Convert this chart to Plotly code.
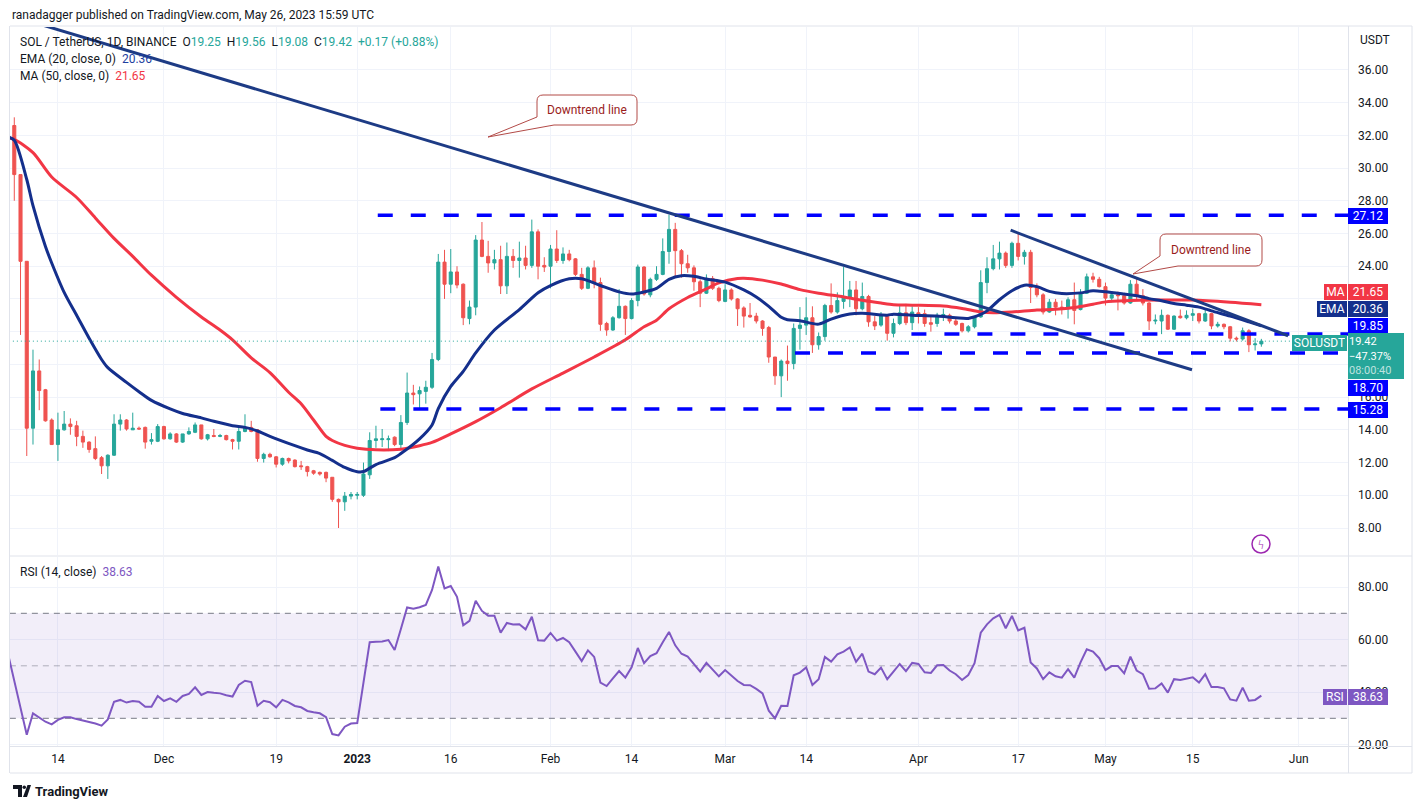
"""
SOL/USDT daily chart (TradingView style) rebuilt with plotly:
candles + EMA20 + MA50, trend lines, horizontal levels, RSI(14) pane.
"""

import pandas as pd
import plotly.graph_objects as go
from plotly.subplots import make_subplots

# --- Daily candles, Nov 7 2022 .. May 26 2023 ---
START = pd.Timestamp("2022-11-07")

opens = [
    32.6, 29.6, 24.3, 14.1, 17.6, 16.45, 14.6, 13.1, 14.0, 14.35,
    14.25, 13.6, 13.25, 12.85, 12.3, 11.8, 12.45, 14.35, 14.6, 14.0,
    14.1, 14.15, 13.3, 13.3, 14.2, 13.45, 13.75, 13.25, 13.75, 13.85,
    14.3, 13.45, 13.65, 13.6, 13.65, 13.4, 13.3, 13.9, 14.15, 14.0,
    12.25, 12.5, 12.35, 11.9, 12.25, 12.15, 11.8, 11.75, 11.5, 11.4,
    11.4, 11.1, 9.75, 9.6, 9.95, 10.0, 10.0, 11.25, 13.35, 13.4,
    13.4, 13.55, 13.1, 14.45, 16.25, 16.2, 16.35, 16.6, 18.3, 24.25,
    22.9, 23.65, 22.9, 20.8, 21.5, 25.6, 24.6, 24.2, 24.4, 22.8,
    24.6, 24.35, 24.5, 24.05, 26.1, 24.05, 24.0, 25.05, 24.35, 24.75,
    24.45, 23.5, 22.65, 23.9, 23.0, 20.5, 20.1, 20.85, 21.55, 20.8,
    21.9, 23.95, 22.25, 23.2, 23.5, 24.9, 26.25, 24.95, 24.15, 23.9,
    23.05, 22.35, 23.25, 22.65, 21.85, 22.55, 22.0, 21.45, 21.0, 20.95,
    20.65, 20.25, 18.45, 17.3, 18.2, 18.05, 20.2, 20.4, 20.85, 19.2,
    19.7, 21.6, 21.2, 21.85, 22.1, 22.55, 21.4, 22.15, 20.6, 20.4,
    21.0, 19.9, 20.5, 21.15, 20.55, 21.15, 21.1, 20.55, 20.5, 21.0,
    21.0, 20.65, 20.5, 20.05, 20.3, 20.9, 23.0, 23.85, 24.45, 24.8,
    24.05, 25.4, 24.6, 24.85, 22.7, 22.25, 21.2, 21.8, 21.5, 21.4,
    21.95, 21.35, 22.35, 23.35, 23.2, 22.75, 22.05, 22.25, 22.2, 21.75,
    22.9, 22.2, 21.75, 20.65, 20.65, 21.0, 20.15, 20.95, 20.85, 21.0,
    21.1, 20.65, 21.1, 20.35, 20.45, 20.3, 19.6, 19.55, 20.05, 19.2, 19.25,
]
highs = [
    33.1, 29.6, 24.3, 18.9, 18.3, 16.5, 14.7, 15.05, 15.15, 14.7,
    14.55, 13.95, 13.3, 13.6, 12.4, 12.5, 14.95, 14.95, 14.65, 15.05,
    14.2, 14.2, 13.8, 14.35, 14.25, 13.85, 13.8, 13.75, 14.15, 14.45,
    14.3, 13.75, 14.05, 13.75, 13.7, 13.45, 14.15, 14.95, 14.55, 14.05,
    12.6, 12.6, 12.4, 12.3, 12.3, 12.2, 12.1, 11.8, 11.55, 11.45,
    11.45, 11.1, 9.8, 10.2, 10.2, 10.2, 12.0, 13.85, 14.25, 14.05,
    13.65, 13.6, 14.9, 17.5, 16.75, 16.65, 17.0, 18.7, 24.75, 25.0,
    25.05, 24.0, 22.95, 21.9, 25.9, 26.7, 25.55, 25.0, 25.25, 25.45,
    25.05, 25.5, 25.25, 26.85, 26.25, 24.55, 25.3, 26.2, 25.15, 25.0,
    24.5, 23.9, 24.0, 24.35, 23.3, 20.6, 20.95, 22.6, 21.6, 22.05,
    24.1, 24.0, 23.3, 24.0, 25.7, 27.15, 26.65, 25.05, 24.7, 24.05,
    23.2, 23.5, 23.4, 22.75, 22.9, 22.65, 22.05, 21.55, 21.75, 21.15,
    20.7, 20.35, 18.45, 18.3, 19.15, 20.5, 21.5, 22.1, 21.55, 19.95,
    21.7, 22.95, 22.4, 23.95, 23.1, 23.1, 23.0, 22.25, 20.95, 21.2,
    21.05, 20.8, 21.6, 21.7, 21.55, 21.5, 21.35, 21.0, 21.15, 21.4,
    21.1, 20.85, 20.55, 20.4, 20.95, 23.75, 24.55, 25.3, 25.5, 24.9,
    25.5, 26.05, 25.0, 25.0, 22.95, 22.35, 22.0, 22.0, 21.9, 22.1,
    23.0, 22.6, 23.55, 23.6, 23.35, 23.0, 22.45, 22.45, 22.3, 23.15,
    23.25, 22.6, 21.8, 21.05, 21.35, 21.05, 21.0, 21.35, 21.3, 21.4,
    21.15, 21.35, 21.15, 20.6, 20.5, 20.35, 19.7, 20.25, 20.15, 19.6, 19.56,
]
lows = [
    28.0, 19.8, 12.4, 13.1, 15.2, 14.5, 13.1, 12.1, 13.95, 13.7,
    13.0, 12.9, 12.6, 12.15, 11.3, 11.0, 12.4, 13.95, 13.95, 14.0,
    14.0, 12.85, 13.1, 13.25, 13.4, 13.4, 13.2, 13.2, 13.7, 13.8,
    13.4, 13.35, 13.55, 13.55, 13.35, 12.8, 12.8, 13.85, 13.85, 12.05,
    12.0, 12.3, 11.7, 11.8, 11.95, 11.7, 11.55, 11.15, 11.25, 11.2,
    10.8, 9.6, 8.0, 9.05, 9.75, 9.75, 9.9, 11.0, 12.9, 12.95,
    12.7, 13.0, 12.85, 14.3, 15.55, 15.3, 15.6, 16.5, 18.2, 22.0,
    22.35, 22.65, 20.4, 20.45, 21.0, 24.55, 23.6, 23.8, 22.3, 22.3,
    23.9, 23.3, 23.8, 23.9, 23.2, 23.65, 22.65, 24.2, 24.15, 24.3,
    23.4, 22.55, 22.6, 22.65, 20.05, 19.75, 20.05, 20.8, 19.8, 20.75,
    21.55, 22.2, 22.1, 23.1, 23.45, 24.15, 23.3, 23.3, 23.6, 22.5,
    21.5, 22.3, 22.55, 21.8, 21.8, 21.9, 20.35, 20.25, 20.85, 20.5,
    19.75, 18.1, 16.75, 16.0, 17.0, 17.7, 18.9, 19.8, 18.7, 18.9,
    19.45, 21.1, 21.1, 21.4, 21.5, 21.0, 21.3, 20.3, 20.1, 20.3,
    19.45, 19.65, 20.4, 20.4, 20.1, 20.5, 20.3, 20.0, 20.3, 20.65,
    20.5, 20.35, 19.95, 19.95, 20.2, 20.85, 22.35, 23.75, 23.8, 23.9,
    23.9, 24.35, 24.1, 21.75, 22.1, 21.05, 21.15, 21.0, 21.05, 20.8,
    20.45, 21.3, 22.3, 23.0, 22.7, 21.6, 21.8, 21.3, 21.65, 21.7,
    21.9, 21.6, 20.1, 20.45, 19.85, 20.1, 20.1, 20.8, 20.75, 20.65,
    20.5, 20.6, 20.15, 20.25, 20.15, 19.4, 19.4, 19.45, 18.75, 18.85, 19.08,
]
closes = [
    29.6, 24.3, 14.1, 17.6, 16.4, 14.55, 13.1, 14.0, 14.35, 14.2,
    13.6, 13.25, 12.8, 12.25, 11.8, 12.45, 14.35, 14.6, 14.05, 14.1,
    14.05, 13.25, 13.4, 14.2, 13.45, 13.75, 13.25, 13.75, 13.9, 14.3,
    13.45, 13.7, 13.6, 13.65, 13.4, 13.3, 13.9, 14.15, 13.9, 12.25,
    12.5, 12.35, 11.9, 12.25, 12.1, 11.75, 11.75, 11.45, 11.35, 11.3,
    11.05, 9.75, 9.6, 9.95, 10.05, 10.05, 11.3, 13.35, 13.45, 13.45,
    13.45, 13.1, 14.45, 16.25, 16.15, 16.4, 16.6, 18.3, 24.25, 22.9,
    23.65, 22.85, 20.85, 21.5, 25.6, 24.6, 24.2, 24.4, 22.8, 24.6,
    24.35, 24.5, 24.05, 26.1, 24.0, 23.95, 25.05, 24.35, 24.75, 24.4,
    23.5, 22.65, 23.9, 23.0, 20.45, 20.1, 20.85, 21.55, 20.8, 21.9,
    23.95, 22.3, 23.2, 23.5, 24.9, 26.25, 24.95, 24.15, 23.9, 23.05,
    22.35, 23.25, 22.65, 21.9, 22.55, 22.0, 21.4, 20.95, 20.9, 20.65,
    20.2, 18.45, 17.3, 18.2, 18.05, 20.2, 20.4, 20.85, 19.2, 19.7,
    21.6, 21.2, 21.9, 22.15, 22.55, 21.4, 22.15, 20.6, 20.35, 21.0,
    19.9, 20.5, 21.15, 20.55, 21.2, 21.05, 20.5, 20.45, 21.0, 21.05,
    20.65, 20.45, 20.05, 20.3, 20.9, 23.0, 23.85, 24.45, 24.8, 24.05,
    25.4, 24.6, 24.85, 22.7, 22.25, 21.2, 21.8, 21.5, 21.4, 21.95,
    21.3, 22.35, 23.35, 23.2, 22.75, 22.05, 22.25, 22.2, 21.75, 22.9,
    22.2, 21.75, 20.65, 20.7, 21.0, 20.15, 20.95, 20.85, 21.0, 21.1,
    20.65, 21.1, 20.35, 20.45, 20.3, 19.6, 19.55, 20.05, 19.2, 19.25, 19.42,
]

# EMA(20) and MA(50) (day offset from START, value)
ema_day = [-1, 0, 2, 3, 5, 6, 8, 10, 12, 14, 15, 18, 20, 22, 25, 27, 30, 32, 35, 37,
           39, 41, 45, 47, 49, 51, 53, 55, 56, 58, 61, 62, 65, 67, 68, 70, 72, 74, 77, 81,
           84, 86, 89, 91, 94, 97, 99, 101, 103, 105, 107, 109, 111, 114, 117, 119, 121, 123, 124, 126,
           129, 131, 134, 136, 140, 141, 144, 148, 151, 153, 155, 156, 158, 160, 162, 164, 166, 168, 171, 173,
           175, 178, 180, 182, 184, 186, 188, 190, 192, 195, 198, 200]
ema_val = [31.9, 31.7, 29.3, 27.7, 25.2, 24.2, 22.4, 21.0, 19.6, 18.3, 17.8, 16.9, 16.33, 15.8, 15.28, 15.0, 14.73, 14.52, 14.25, 14.15,
           13.93, 13.6, 13.03, 12.77, 12.55, 12.13, 11.7, 11.44, 11.45, 11.88, 12.3, 12.55, 13.45, 14.3, 15.3, 16.65, 17.57, 18.7, 20.1, 21.35,
           22.38, 22.82, 23.23, 23.23, 22.82, 22.43, 22.3, 22.43, 22.65, 23.2, 23.42, 23.38, 23.22, 23.03, 22.55, 22.12, 21.55, 20.88, 20.73, 20.67,
           20.46, 20.77, 21.08, 21.12, 21.01, 21.07, 21.01, 20.95, 20.85, 20.81, 21.05, 21.27, 21.95, 22.5, 22.84, 22.75, 22.46, 22.33, 22.37, 22.5,
           22.44, 22.3, 22.2, 22.02, 21.89, 21.72, 21.62, 21.5, 21.27, 20.95, 20.6, 20.36]

ma_day = [-1, 0, 3, 6, 10, 13, 16, 19, 22, 26, 30, 33, 35, 38, 41, 44, 46, 48, 50, 51,
          53, 55, 58, 62, 65, 67, 70, 74, 78, 83, 88, 93, 98, 101, 103, 105, 108, 111, 113, 116,
          117, 120, 123, 126, 129, 133, 136, 139, 141, 144, 149, 152, 155, 157, 160, 164, 167, 170, 173, 175,
          178, 184, 189, 195, 200]
ma_val = [31.85, 31.75, 30.94, 29.45, 28.2, 26.95, 25.7, 24.6, 23.45, 22.1, 20.9, 20.1, 19.5, 18.4, 17.5, 16.3, 15.6, 14.6, 13.6, 13.35,
          13.05, 12.88, 12.78, 12.82, 13.03, 13.23, 13.75, 14.5, 15.35, 16.5, 17.47, 18.45, 19.5, 20.3, 20.7, 21.4, 22.09, 22.62, 22.98, 23.25,
          23.27, 23.15, 22.91, 22.57, 22.35, 22.12, 21.92, 21.75, 21.65, 21.62, 21.57, 21.42, 21.2, 21.15, 21.2, 21.32, 21.37, 21.48, 21.68, 21.82,
          21.89, 21.93, 21.93, 21.8, 21.65]

# RSI(14), one value per day starting Nov 6 2022
rsi = [
    54.5,
    44.1, 34.2, 23.7, 31.9, 30.4, 28.7, 27.7, 29.4, 30.4, 30.4,
    29.7, 29.2, 28.7, 28.0, 27.2, 29.6, 36.3, 37.0, 36.0, 36.6,
    36.3, 34.4, 34.4, 38.5, 36.6, 37.6, 36.3, 38.5, 39.3, 41.8,
    38.9, 40.0, 39.7, 39.5, 38.8, 38.3, 42.7, 44.3, 43.8, 34.8,
    36.7, 36.1, 34.2, 37.0, 36.1, 34.7, 34.2, 32.8, 32.3, 31.9,
    30.4, 24.0, 23.5, 26.8, 28.0, 28.2, 43.6, 59.0, 59.2, 59.3,
    59.8, 56.0, 64.0, 72.2, 71.7, 72.3, 73.2, 78.9, 87.8, 79.5,
    80.4, 76.3, 65.4, 67.1, 74.8, 70.9, 69.1, 69.1, 62.6, 66.3,
    65.7, 65.8, 63.9, 68.7, 59.7, 59.6, 62.5, 59.6, 60.6, 59.0,
    55.4, 51.8, 55.9, 53.4, 43.6, 42.3, 45.2, 48.0, 45.5, 49.4,
    56.8, 51.0, 53.7, 54.8, 59.0, 62.9, 57.8, 54.6, 53.5, 50.7,
    47.8, 51.1, 48.4, 46.0, 48.4, 46.3, 44.2, 42.7, 42.6, 41.2,
    39.5, 32.9, 30.0, 34.8, 34.7, 46.4, 47.4, 49.4, 42.7, 44.9,
    53.4, 51.6, 54.4, 55.4, 57.0, 51.5, 54.6, 47.8, 46.8, 49.3,
    44.9, 47.8, 50.7, 48.0, 51.1, 50.7, 47.5, 47.3, 50.2, 50.3,
    48.2, 46.8, 44.6, 46.5, 51.0, 62.6, 65.8, 68.1, 69.4, 64.3,
    69.0, 63.5, 64.5, 51.3, 49.0, 44.9, 47.5, 46.0, 45.5, 48.7,
    45.5, 51.3, 56.3, 55.4, 52.9, 48.4, 49.9, 49.9, 47.1, 53.5,
    48.2, 46.8, 41.3, 41.4, 43.3, 39.8, 44.9, 44.6, 45.2, 45.6,
    43.6, 46.8, 41.9, 41.9, 41.4, 37.2, 36.7, 41.7, 36.7, 37.0,
    38.63,
]

# Drawn lines: long and short downtrend lines (date, price), horizontal levels
long_line_x = ["2022-11-06", "2023-05-14 21:00"]
long_line_y = [39.37, 17.67]
short_line_x = ["2023-04-15 19:00", "2023-05-30 07:00"]
short_line_y = [26.2, 19.75]
level_vals = [27.12, 19.85, 18.70, 15.28]
level_from = ["2023-01-04 07:00", "2023-03-30 21:00", "2023-03-12 05:00", "2023-01-04 17:00"]
LAST = 19.42

tick_dates = ["2022-11-14", "2022-12-01", "2022-12-19", "2023-01-01", "2023-01-16", "2023-02-01",
              "2023-02-14", "2023-03-01", "2023-03-14", "2023-04-01", "2023-04-17", "2023-05-01",
              "2023-05-15", "2023-06-01"]
tick_text = ["14", "Dec", "19", "<b>2023</b>", "16", "Feb", "14", "Mar", "14", "Apr", "17", "May", "15", "Jun"]

# price scale: labels 18/20/22 sit under the MA/EMA/last-price tags, so they stay blank
price_ticks = list(range(8, 37, 2))
price_text = ["" if v in (18, 20, 22) else f"{v:.2f}" for v in price_ticks]

assert len(opens) == len(highs) == len(lows) == len(closes) == 201, \
    (len(opens), len(highs), len(lows), len(closes))
assert len(rsi) == 202, len(rsi)

dates = pd.date_range(START, periods=len(closes), freq="D")
rsi_dates = pd.date_range(START - pd.Timedelta(days=1), periods=len(rsi), freq="D")
ema_x = [START + pd.Timedelta(days=d) for d in ema_day]
ma_x = [START + pd.Timedelta(days=d) for d in ma_day]

# --- colours ---
UP, DOWN = "#26a69a", "#ef5350"
EMA_C, MA_C = "#142f8c", "#f23645"
TREND_C = "#1d3b85"
LEVEL_C = "#0000ff"
RSI_C = "#7e57c2"
GRID = "#f0f3fa"
BORDER = "#e0e3eb"
TXT = "#131722"
CALLOUT = "#b24a47"
FONT = "Roboto"

# --- pixel helpers for the overlay furniture (plot area: x 10..1348, y 27..746) ---
def px(x):
    return (x - 10) / 1338

def py(y):
    return (746 - y) / 719

fig = make_subplots(rows=2, cols=1, shared_xaxes=True, vertical_spacing=0.0)

fig.add_trace(go.Candlestick(
    x=dates, open=opens, high=highs, low=lows, close=closes,
    increasing=dict(line=dict(color=UP, width=1), fillcolor=UP),
    decreasing=dict(line=dict(color=DOWN, width=1), fillcolor=DOWN),
    whiskerwidth=0, name="SOLUSDT",
), row=1, col=1)

fig.add_trace(go.Scatter(x=ma_x, y=ma_val, mode="lines", line=dict(color=MA_C, width=3, shape="spline", smoothing=0.8),
                         name="MA"), row=1, col=1)
fig.add_trace(go.Scatter(x=ema_x, y=ema_val, mode="lines", line=dict(color=EMA_C, width=3, shape="spline", smoothing=0.8),
                         name="EMA"), row=1, col=1)

# current price dotted line
fig.add_trace(go.Scatter(x=["2022-11-01", "2023-06-20"], y=[LAST, LAST], mode="lines",
                         line=dict(color=UP, width=1, dash="1px,3px"), hoverinfo="skip"), row=1, col=1)

# horizontal support / resistance levels
for lv, x0 in zip(level_vals, level_from):
    fig.add_trace(go.Scatter(x=[x0, "2023-06-20"], y=[lv, lv], mode="lines",
                             line=dict(color=LEVEL_C, width=3.5, dash="15px,18px"), hoverinfo="skip"),
                  row=1, col=1)

# trend lines
fig.add_trace(go.Scatter(x=long_line_x, y=long_line_y, mode="lines",
                         line=dict(color=TREND_C, width=3), hoverinfo="skip"), row=1, col=1)
fig.add_trace(go.Scatter(x=short_line_x, y=short_line_y, mode="lines",
                         line=dict(color=TREND_C, width=3), hoverinfo="skip"), row=1, col=1)

# RSI pane
fig.add_trace(go.Scatter(x=["2022-11-01", "2023-06-20"], y=[70, 70], mode="lines",
                         line=dict(width=0), hoverinfo="skip"), row=2, col=1)
fig.add_trace(go.Scatter(x=["2022-11-01", "2023-06-20"], y=[30, 30], mode="lines", fill="tonexty",
                         fillcolor="rgba(126,87,194,0.1)", line=dict(width=0), hoverinfo="skip"), row=2, col=1)
for lv, col in [(70, "#787b86"), (50, "rgba(120,123,134,0.55)"), (30, "#787b86")]:
    fig.add_trace(go.Scatter(x=["2022-11-01", "2023-06-20"], y=[lv, lv], mode="lines",
                             line=dict(color=col, width=1, dash="6px,5px"), hoverinfo="skip"), row=2, col=1)
fig.add_trace(go.Scatter(x=rsi_dates, y=rsi, mode="lines", line=dict(color=RSI_C, width=2), name="RSI"),
              row=2, col=1)

# --- axes ---
x_range = ["2022-11-06 07:30", "2023-06-08 21:30"]
fig.update_xaxes(range=x_range, tickvals=tick_dates, ticktext=tick_text, showgrid=True, gridcolor=GRID,
                 gridwidth=1, zeroline=False, showline=False, ticks="",
                 tickfont=dict(family=FONT, size=12, color=TXT))
fig.update_xaxes(showticklabels=False, rangeslider_visible=False, row=1, col=1)
fig.update_xaxes(ticklabelstandoff=4, row=2, col=1)

fig.update_yaxes(side="right", showgrid=True, gridcolor=GRID, zeroline=False, showline=False, ticks="",
                 ticklabelstandoff=9, tickfont=dict(family=FONT, size=12, color=TXT))
fig.update_yaxes(range=[6.35, 38.62], tickvals=price_ticks, ticktext=price_text, row=1, col=1)
fig.update_yaxes(range=[19.45, 91.45], tickvals=[20, 40, 60, 80],
                 ticktext=["20.00", "40.00", "60.00", "80.00"], row=2, col=1)

fig.update_layout(
    width=1422, height=809,
    margin=dict(l=10, r=74, t=27, b=63),
    paper_bgcolor="white", plot_bgcolor="white",
    showlegend=False,
    font=dict(family=FONT, size=12, color=TXT),
    yaxis=dict(domain=[py(555), 1.0]),
    yaxis2=dict(domain=[0.0, py(557)]),
    hovermode="x",
)

# --- frame lines ---
shapes = []
def hline(y, x0=10, x1=1412):
    shapes.append(dict(type="line", xref="paper", yref="paper", x0=px(x0), x1=px(x1), y0=py(y), y1=py(y),
                       line=dict(color=BORDER, width=1), layer="above"))

def vline(x, y0=26, y1=773):
    shapes.append(dict(type="line", xref="paper", yref="paper", x0=px(x), x1=px(x), y0=py(y0), y1=py(y1),
                       line=dict(color=BORDER, width=1), layer="above"))

def path(points):
    # points are (cmd, x, y) in screen pixels, or ("Q", cx, cy, x, y)
    parts = []
    for p in points:
        if p[0] == "Q":
            parts.append(f"Q {px(p[1])} {py(p[2])} {px(p[3])} {py(p[4])}")
        else:
            parts.append(f"{p[0]} {px(p[1])} {py(p[2])}")
    return " ".join(parts) + " Z"

def bubble(x0, y0, x1, y1, tip, left_y, bottom_x, r=6):
    # rounded box with a wedge tail leaving its lower-left corner
    pts = [("M", x0 + r, y0), ("L", x1 - r, y0), ("Q", x1, y0, x1, y0 + r),
           ("L", x1, y1 - r), ("Q", x1, y1, x1 - r, y1), ("L", bottom_x, y1),
           ("L", tip[0], tip[1]), ("L", x0, left_y), ("L", x0, y0 + r), ("Q", x0, y0, x0 + r, y0)]
    shapes.append(dict(type="path", xref="paper", yref="paper", path=path(pts),
                       fillcolor="white", line=dict(color=CALLOUT, width=1), layer="above"))

hline(26)
hline(556)
hline(746.5)
hline(773)
vline(1348.5)
vline(1412)
vline(9.5)

bubble(537, 95, 637, 125, (488, 137), 117, 554)
bubble(1160, 234, 1262, 266, (1133, 274), 256, 1178)

# lightning icon circle
shapes.append(dict(type="circle", xref="paper", yref="paper", x0=px(1252), x1=px(1270), y0=py(553), y1=py(535),
                   line=dict(color="#9c27b0", width=1.5)))
# TradingView logo bits
shapes.append(dict(type="path", xref="paper", yref="paper",
                   path=path([("M", 13, 785), ("L", 22, 785), ("L", 22, 797), ("L", 18, 797),
                              ("L", 18, 789), ("L", 13, 789)]),
                   fillcolor=TXT, line=dict(width=0)))
shapes.append(dict(type="circle", xref="paper", yref="paper", x0=px(22.5), x1=px(26), y0=py(789), y1=py(785.5),
                   fillcolor=TXT, line=dict(width=0)))
shapes.append(dict(type="path", xref="paper", yref="paper",
                   path=path([("M", 23, 797), ("L", 27.5, 785), ("L", 31, 785), ("L", 27, 797)]),
                   fillcolor=TXT, line=dict(width=0)))
fig.update_layout(shapes=shapes)

# --- text overlays ---
ann = []

def text(x, y, s, size=12, color=TXT, anchor="left"):
    ann.append(dict(x=px(x), y=py(y), xref="paper", yref="paper", text=s, showarrow=False,
                    xanchor=anchor, yanchor="middle", font=dict(family=FONT, size=size, color=color)))

def tag(x, y, s, bg, w, h=12, anchor="left", pad=2, fcolor="white", align="center", size=12):
    ann.append(dict(x=px(x), y=py(y), xref="paper", yref="paper", text=s, showarrow=False,
                    xanchor=anchor, yanchor="middle", bgcolor=bg, borderwidth=0, borderpad=pad,
                    width=w, height=h, align=align, font=dict(family=FONT, size=size, color=fcolor)))

text(10, 15, "ranadagger published on TradingView.com, May 26, 2023 15:59 UTC")
g = "<span style='color:#26a69a'>{}</span>"
text(18, 42, "SOL / TetherUS, 1D, BINANCE&nbsp;&nbsp;O" + g.format("19.25") + "&nbsp;&nbsp;H" + g.format("19.56")
     + "&nbsp;&nbsp;L" + g.format("19.08") + "&nbsp;&nbsp;C" + g.format("19.42") + "&nbsp;&nbsp;"
     + g.format("+0.17 (+0.88%)"))
text(18, 59, "EMA (20, close, 0)&nbsp;&nbsp;<span style='color:#1e3fa0'>20.36</span>")
text(18, 76, "MA (50, close, 0)&nbsp;&nbsp;<span style='color:#f23645'>21.65</span>")
text(18, 572, "RSI (14, close)&nbsp;&nbsp;<span style='color:#7e57c2'>38.63</span>")
text(1358, 40, "USDT")
text(1261, 544, "ϟ", size=13, color="#9c27b0", anchor="center")
text(33, 791, "<b>TradingView</b>", size=13)
text(587, 110, "Downtrend line", color="#9a1c1c", anchor="center")
text(1211, 250, "Downtrend line", color="#9a1c1c", anchor="center")

# price scale tags
tag(1348, 216, "27.12", LEVEL_C, 36)
tag(1347, 292, "MA", MA_C, 19, anchor="right")
tag(1348, 292, "21.65", MA_C, 36)
tag(1347, 309, "EMA", EMA_C, 26, anchor="right")
tag(1348, 309, "20.36", EMA_C, 36)
tag(1348, 326, "19.85", LEVEL_C, 36)
tag(1347, 343, "SOLUSDT", UP, 51, anchor="right")
tag(1348, 356, "19.42<br>−47.37%<br><span style='color:rgba(255,255,255,0.7)'>08:00:40</span>", UP, 54, h=44,
    pad=1, align="left", size=11)
tag(1348, 388, "18.70", LEVEL_C, 36)
tag(1348, 410, "15.28", LEVEL_C, 36)
tag(1347, 697, "RSI", RSI_C, 20, anchor="right")
tag(1348, 697, "38.63", RSI_C, 36)

fig.update_layout(annotations=ann)

# the page's default 8px body margin would shift the fixed-size figure
fig.write_html("out.html", config={"displayModeBar": False},
               post_script="document.body.style.margin='0px';")
